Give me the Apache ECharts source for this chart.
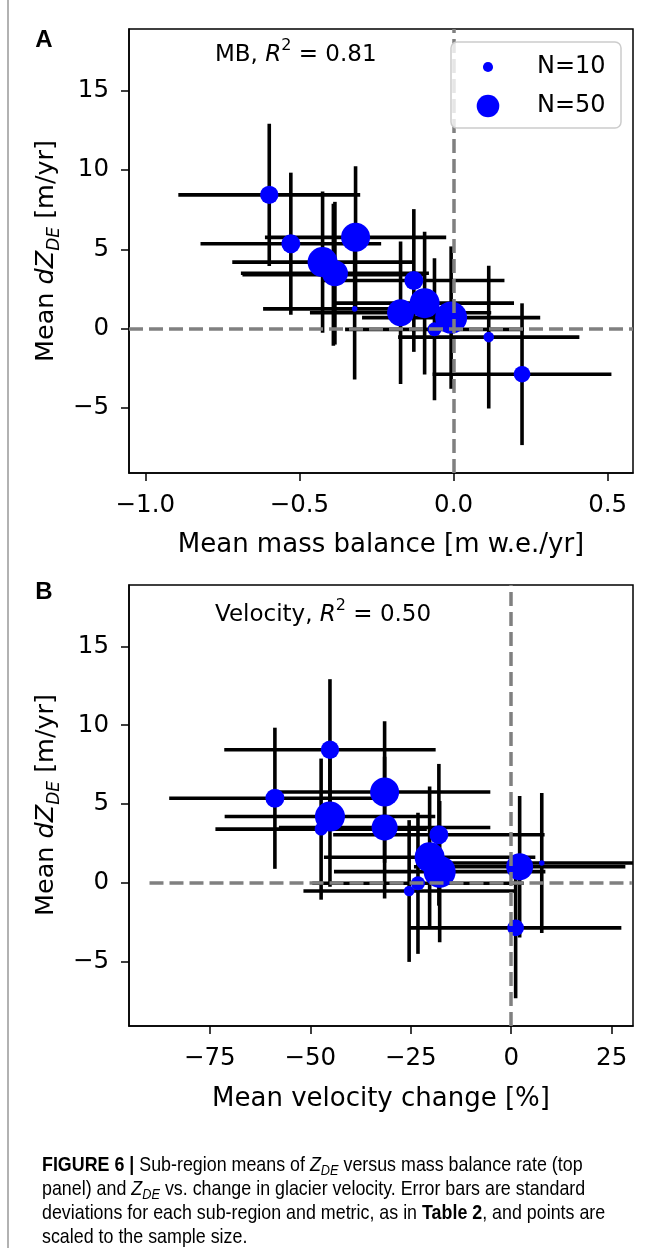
<!DOCTYPE html>
<html><head><meta charset="utf-8">
<script src="https://cdn.jsdelivr.net/npm/echarts@6/dist/echarts.min.js"></script>
<style>html,body{margin:0;padding:0;background:#fff}#c{width:651px;height:1248px}</style>
</head><body><div id="c"></div><script>
// ---- data ----
const mbX    = [-0.598,-0.528,-0.425,-0.385,-0.321,-0.318,-0.129,-0.094,-0.172,-0.008,-0.062, 0.114, 0.222,-0.390];
const velX   = [-45.1, -58.8, -45.1, -31.5,   7.6, -31.5, -18.0, -20.3,   2.1, -17.8, -23.2, -25.4,   1.1, -47.3];
const dz     = [ 8.44,  5.36,  4.20,  3.50,  1.25,  5.76,  3.04,  1.61,  1.01,  0.70, -0.04, -0.53, -2.87,  3.40];
const dzErr  = [ 4.48,  4.48,  4.46,  4.50,  4.45,  4.49,  4.50,  4.50,  4.49,  4.49,  4.48,  4.50,  4.47,  4.48];
const mbErr  = [0.295, 0.293, 0.293, 0.305, 0.297, 0.294, 0.294, 0.290, 0.294, 0.289, 0.290, 0.294, 0.290, 0.295];
const velErr = [ 26.3,  26.3,  26.2,  26.3,  26.3,  26.3,  26.3,  26.3,  26.3,  26.3,  26.3,  26.3,  26.3,  26.3];
const nSamples = [33, 35, 88, 66, 3, 82, 35, 88, 71, 100, 19, 11, 27, 16];
const legendN = [10, 50];
const mbTicks  = [-1.0, -0.5, 0.0, 0.5];
const velTicks = [-75, -50, -25, 0, 25];
const dzTicks  = [-5, 0, 5, 10, 15];
const r2Values = ['0.81', '0.50'];

// ---- styling ----
const F = 'DejaVu Sans';
const CAPF = '"Liberation Sans", Arial, sans-serif';
const BLUE = '#0000ff';
const sizeOf = n => 3.2 * Math.sqrt(n);
const minusFmt = d => v => (v < 0 ? '\u2212' : '') + Math.abs(v).toFixed(d);

const G = [
  {left: 129, top: 29, width: 504, height: 444},
  {left: 129, top: 585, width: 504, height: 441}
];

function xAxisDef(gi, min, max, ticks, dec) {
  return {gridIndex: gi, type: 'value', min, max,
    axisLine: {show: true, onZero: false, lineStyle: {color: '#000', width: 1.5}},
    axisTick: {show: true, inside: false, length: 8, lineStyle: {color: '#000', width: 1.5}, customValues: ticks},
    axisLabel: {show: true, margin: 20, color: '#000', fontFamily: F, fontSize: 24.5, customValues: ticks, formatter: minusFmt(dec)},
    splitLine: {show: false}};
}
function yAxisDef(gi) {
  return {gridIndex: gi, type: 'value', min: -9.1, max: 18.9,
    axisLine: {show: true, onZero: false, lineStyle: {color: '#000', width: 1.5}},
    axisTick: {show: true, inside: false, length: 8, lineStyle: {color: '#000', width: 1.5}, customValues: dzTicks},
    axisLabel: {show: true, margin: 20, color: '#000', fontFamily: F, fontSize: 24.5, customValues: dzTicks, formatter: minusFmt(0)},
    splitLine: {show: false}};
}

function renderErr(params, api) {
  const x = api.value(0), y = api.value(1), ex = api.value(2), ey = api.value(3);
  const l = api.coord([x - ex, y]), r = api.coord([x + ex, y]);
  const t = api.coord([x, y + ey]), b = api.coord([x, y - ey]);
  const cs = params.coordSys;
  const st = {stroke: '#000', lineWidth: 3.6};
  return {type: 'group',
    clipPath: {type: 'rect', shape: {x: cs.x, y: cs.y, width: cs.width, height: cs.height}},
    children: [
      {type: 'line', shape: {x1: l[0], y1: l[1], x2: r[0], y2: r[1]}, style: st},
      {type: 'line', shape: {x1: t[0], y1: t[1], x2: b[0], y2: b[1]}, style: st}
    ]};
}

const dashStyle = {color: '#808080', width: 3.5, type: [14, 6]};
function panelSeries(gi, xs, xe, hLine) {
  return [
    {type: 'custom', xAxisIndex: gi, yAxisIndex: gi, z: 1, renderItem: renderErr,
      encode: {x: 0, y: 1},
      data: xs.map((x, i) => [x, dz[i], xe[i], dzErr[i]])},
    {type: 'scatter', xAxisIndex: gi, yAxisIndex: gi, z: 2,
      data: xs.map((x, i) => [x, dz[i], nSamples[i]]),
      symbolSize: v => sizeOf(v[2]),
      itemStyle: {color: BLUE, opacity: 1}},
    {type: 'scatter', xAxisIndex: gi, yAxisIndex: gi, z: 3, data: [],
      markLine: {silent: true, symbol: ['none', 'none'], label: {show: false}, lineStyle: dashStyle,
        animation: false, z: 3,
        data: [{xAxis: 0}, hLine]}}
  ];
}

const rt = (fs) => ({
  n: {fontFamily: F, fontSize: fs, color: '#000', lineHeight: 34, verticalAlign: 'middle'},
  i: {fontFamily: F, fontSize: fs, fontStyle: 'italic', color: '#000', lineHeight: 34, verticalAlign: 'middle'},
  s: {fontFamily: F, fontSize: Math.round(fs * 0.68), fontStyle: 'italic', color: '#000', lineHeight: 16, verticalAlign: 'bottom'},
  p: {fontFamily: F, fontSize: Math.round(fs * 0.68), color: '#000', lineHeight: 18, verticalAlign: 'top'}
});

const capRich = {
  t: {fontFamily: CAPF, fontSize: 21, color: '#231f20', lineHeight: 26, verticalAlign: 'middle'},
  b: {fontFamily: CAPF, fontSize: 21, fontWeight: 'bold', color: '#231f20', lineHeight: 26, verticalAlign: 'middle'},
  i: {fontFamily: CAPF, fontSize: 21, fontStyle: 'italic', color: '#231f20', lineHeight: 26, verticalAlign: 'middle'},
  s: {fontFamily: CAPF, fontSize: 15, fontStyle: 'italic', color: '#231f20', lineHeight: 15, verticalAlign: 'bottom'}
};
const capLines = [
  '{b|FIGURE 6 | }{t|Sub-region means of }{i|Z}{s|DE}{t| versus mass balance rate (top}',
  '{t|panel) and }{i|Z}{s|DE}{t| vs. change in glacier velocity. Error bars are standard}',
  '{t|deviations for each sub-region and metric, as in }{b|Table 2}{t|, and points are}',
  '{t|scaled to the sample size.}'
];
const capY = [1165, 1189, 1213, 1237];

function txt(x, y, text, rich, opts, align) {
  return Object.assign({type: 'text', x, y, z: 100,
    style: {text, rich, align: align || 'left', verticalAlign: 'middle'}}, opts || {});
}

const graphics = [
  {type: 'line', shape: {x1: 8, y1: 0, x2: 8, y2: 1248}, style: {stroke: '#999', lineWidth: 1.5}, z: 100},
  {type: 'text', x: 44, y: 40, z: 100, style: {text: 'A', fontFamily: '"Liberation Sans", Arial', fontWeight: 'bold', fontSize: 24, fill: '#000', align: 'center', verticalAlign: 'middle'}},
  {type: 'text', x: 44, y: 592, z: 100, style: {text: 'B', fontFamily: '"Liberation Sans", Arial', fontWeight: 'bold', fontSize: 24, fill: '#000', align: 'center', verticalAlign: 'middle'}},
  txt(215, 55, '{n|MB, }{i|R}{p|2}{n| = ' + r2Values[0] + '}', rt(23)),
  txt(215, 615, '{n|Velocity, }{i|R}{p|2}{n| = ' + r2Values[1] + '}', rt(23)),
  // y axis names
  txt(46, 251, '{n|Mean }{i|dZ}{s|DE}{n| [m/yr]}', rt(25.5), {rotation: Math.PI / 2}, 'center'),
  txt(46, 805, '{n|Mean }{i|dZ}{s|DE}{n| [m/yr]}', rt(25.5), {rotation: Math.PI / 2}, 'center'),
  // x axis names
  {type: 'text', x: 381, y: 545, z: 100, style: {text: 'Mean mass balance [m w.e./yr]', fontFamily: F, fontSize: 26, fill: '#000', align: 'center', verticalAlign: 'middle'}},
  {type: 'text', x: 381, y: 1099, z: 100, style: {text: 'Mean velocity change [%]', fontFamily: F, fontSize: 26, fill: '#000', align: 'center', verticalAlign: 'middle'}},
  // legend
  {type: 'rect', z: 100, shape: {x: 451, y: 42, width: 170, height: 86, r: 6}, style: {fill: 'rgba(255,255,255,0.8)', stroke: '#cccccc', lineWidth: 1.5}},
  {type: 'circle', z: 101, shape: {cx: 488, cy: 67, r: sizeOf(legendN[0]) / 2}, style: {fill: BLUE}},
  {type: 'circle', z: 101, shape: {cx: 488, cy: 106, r: sizeOf(legendN[1]) / 2}, style: {fill: BLUE}},
  {type: 'text', x: 537, y: 67, z: 101, style: {text: 'N=' + legendN[0], fontFamily: F, fontSize: 24, fill: '#000', align: 'left', verticalAlign: 'middle'}},
  {type: 'text', x: 537, y: 106, z: 101, style: {text: 'N=' + legendN[1], fontFamily: F, fontSize: 24, fill: '#000', align: 'left', verticalAlign: 'middle'}}
];
capLines.forEach((l, k) => graphics.push(txt(42, capY[k], l, capRich, {scaleX: 0.85})));

const chart = echarts.init(document.getElementById('c'), null, {renderer: 'canvas'});
chart.setOption({
  animation: false,
  backgroundColor: '#fff',
  grid: G.map(g => Object.assign({show: true, borderColor: '#000', borderWidth: 1.5, backgroundColor: 'transparent', containLabel: false}, g)),
  xAxis: [xAxisDef(0, -1.053, 0.582, mbTicks, 1), xAxisDef(1, -95.1, 30.3, velTicks, 0)],
  yAxis: [yAxisDef(0), yAxisDef(1)],
  series: [].concat(
    panelSeries(0, mbX, mbErr, {yAxis: 0}),
    panelSeries(1, velX, velErr, [{coord: [-90, 0]}, {coord: [30, 0]}])
  ),
  graphic: graphics
});
</script></body></html>
